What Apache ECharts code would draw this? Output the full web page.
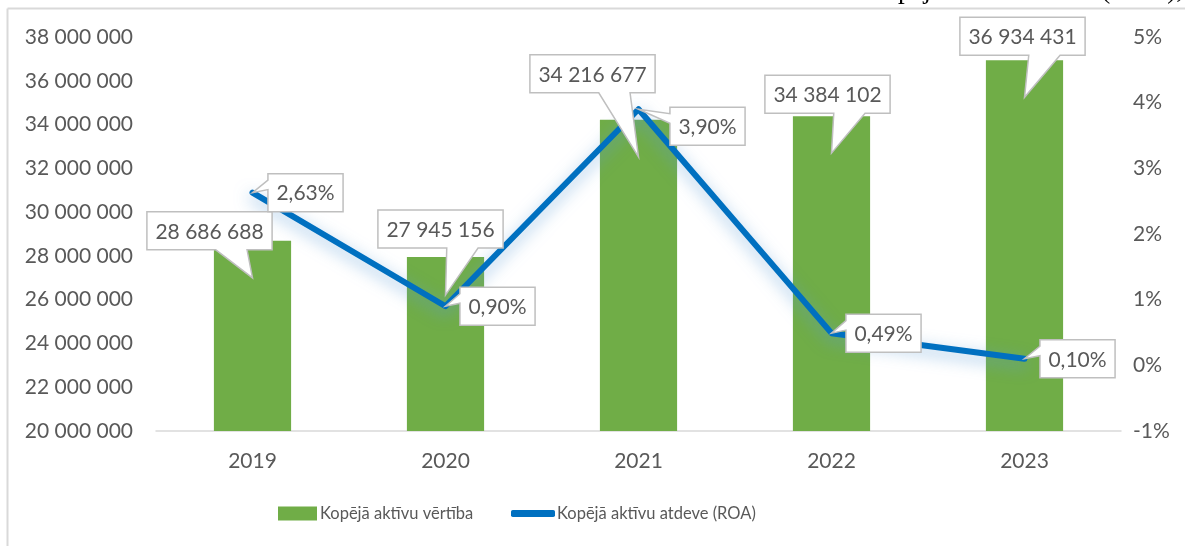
<!DOCTYPE html>
<html><head><meta charset="utf-8">
<script src="https://cdn.jsdelivr.net/npm/echarts@6/dist/echarts.min.js"></script>
<style>html,body{margin:0;padding:0;background:#fff}#c{width:1185px;height:546px}</style>
</head><body><div id="c"></div>
<script>
// ---------- data ----------
const categories = ['2019', '2020', '2021', '2022', '2023'];
const assetValues = [28686688, 27945156, 34216677, 34384102, 36934431];
const roaValues = [2.63, 0.90, 3.90, 0.49, 0.10];
const seriesNames = ['Kopējā aktīvu vērtība', 'Kopējā aktīvu atdeve (ROA)'];
const leftAxisTicks = [20000000, 22000000, 24000000, 26000000, 28000000, 30000000, 32000000, 34000000, 36000000, 38000000];
const rightAxisTicks = [-1, 0, 1, 2, 3, 4, 5];
const clippedTitle = 'kopējā aktīvu atdeve (ROA),';

// ---------- label callout placement (pixel offsets from the data point) ----------
const barBoxOffsets = [[-43, -10], [-5, -28], [-46, -46], [-4, -22], [-2, -24]];
const barTipOffsets = [[0, 37], [0, 38], [0, 37], [0, 37], [0, 37]];
const lineBoxOffsets = [[53, 0], [52, 0], [69, 17], [52, 0], [53, 0]];
const lineTipOffsets = [[0, 0], [0, 0], [0, 0], [0, 0], [0, 0]];

const FONT = 'Lato';
const TXT = '#595959';
const fmtSpace = v => String(Math.round(v)).replace(/\B(?=(\d{3})+(?!\d))/g, ' ');
const fmtPct = v => v.toFixed(2).replace('.', ',') + '%';

const mctx = document.createElement('canvas').getContext('2d');
function textW(s, size) { mctx.font = size + 'px ' + FONT; return mctx.measureText(s).width; }

function calloutPoints(cx, cy, w, h, tx, ty) {
  const l = cx - w / 2, r = cx + w / 2, t = cy - h / 2, b = cy + h / 2;
  const dx = (tx - cx) / w, dy = (ty - cy) / h;
  if (Math.abs(dy) >= Math.abs(dx)) {
    const a = tx >= cx ? l + w * 0.55 : l + w * 0.2;
    const c = tx >= cx ? l + w * 0.8 : l + w * 0.45;
    if (dy > 0) return [[l, t], [r, t], [r, b], [c, b], [tx, ty], [a, b], [l, b]];
    return [[l, t], [a, t], [tx, ty], [c, t], [r, t], [r, b], [l, b]];
  } else {
    const a = ty > cy ? t + h * 0.58 : t + h * 0.17;
    const c = ty > cy ? t + h * 0.83 : t + h * 0.42;
    if (dx < 0) return [[l, t], [r, t], [r, b], [l, b], [l, c], [tx, ty], [l, a]];
    return [[l, t], [r, t], [r, a], [tx, ty], [r, c], [r, b], [l, b]];
  }
}

function calloutRenderer(fmt, boxOffs, tipOffs) {
  return function (params, api) {
    const i = params.dataIndex;
    const p = api.coord([api.value(0), api.value(1)]);
    const s = fmt(api.value(1));
    const w = textW(s, 21) + 17, h = 38;
    const cx = p[0] + boxOffs[i][0], cy = p[1] + boxOffs[i][1];
    const tx = p[0] + tipOffs[i][0], ty = p[1] + tipOffs[i][1];
    return {
      type: 'group',
      children: [
        { type: 'polygon', shape: { points: calloutPoints(cx, cy, w, h, tx, ty) },
          style: { fill: '#ffffff', stroke: '#BFBFBF', lineWidth: 1.5 } },
        { type: 'text', x: cx, y: cy + 1,
          style: { text: s, align: 'center', verticalAlign: 'middle', fill: TXT, fontSize: 21, fontFamily: FONT } }
      ]
    };
  };
}

const chart = echarts.init(document.getElementById('c'), null, { renderer: 'canvas' });
const option = {
  animation: false,
  backgroundColor: '#ffffff',
  grid: { left: 156, right: 64, top: 37, bottom: 115 },
  legend: [
    { data: [seriesNames[0]], left: 278, top: 505, padding: 0, icon: 'rect', itemWidth: 39, itemHeight: 14, itemGap: 0,
      textStyle: { color: TXT, fontSize: 16.5, fontFamily: FONT, padding: [0, 0, 0, -2] } },
    { data: [seriesNames[1]], left: 511, top: 505, padding: 0, icon: 'roundRect', itemWidth: 44, itemHeight: 7, itemGap: 0,
      itemStyle: { shadowBlur: 0, shadowOffsetY: 0 },
      textStyle: { color: TXT, fontSize: 16.5, fontFamily: FONT, padding: [0, 0, 0, -3] } }
  ],
  xAxis: {
    type: 'category', data: categories,
    axisLine: { onZero: false, lineStyle: { color: '#D9D9D9', width: 1.5 } },
    axisTick: { show: false },
    axisLabel: { color: TXT, fontSize: 21, fontFamily: FONT, margin: 20 }
  },
  yAxis: [
    { type: 'value', min: leftAxisTicks[0], max: leftAxisTicks[leftAxisTicks.length - 1],
      interval: leftAxisTicks[1] - leftAxisTicks[0],
      axisLine: { show: false }, axisTick: { show: false }, splitLine: { show: false },
      axisLabel: { color: TXT, fontSize: 21, fontFamily: FONT, margin: 23, formatter: fmtSpace } },
    { type: 'value', position: 'right', min: rightAxisTicks[0], max: rightAxisTicks[rightAxisTicks.length - 1],
      interval: rightAxisTicks[1] - rightAxisTicks[0],
      axisLine: { show: false }, axisTick: { show: false }, splitLine: { show: false },
      axisLabel: { color: TXT, fontSize: 21, fontFamily: FONT, margin: 12, formatter: v => v + '%' } }
  ],
  series: [
    { name: seriesNames[0], type: 'bar', yAxisIndex: 0, data: assetValues, barWidth: '40%', z: 2,
      itemStyle: { color: '#70AD47' } },
    { name: seriesNames[1], type: 'line', yAxisIndex: 1, data: roaValues, z: 3,
      symbol: 'none', color: '#0070C0',
      lineStyle: { color: '#0070C0', width: 6, cap: 'round', join: 'round',
        shadowColor: 'rgba(91,155,213,0.65)', shadowBlur: 16, shadowOffsetY: 5 } },
    { type: 'custom', coordinateSystem: 'cartesian2d', yAxisIndex: 0, z: 4, silent: true,
      data: assetValues.map((v, i) => [i, v]), encode: { x: 0, y: 1 },
      renderItem: calloutRenderer(fmtSpace, barBoxOffsets, barTipOffsets) },
    { type: 'custom', coordinateSystem: 'cartesian2d', yAxisIndex: 1, z: 5, silent: true,
      data: roaValues.map((v, i) => [i, v]), encode: { x: 0, y: 1 },
      renderItem: calloutRenderer(fmtPct, lineBoxOffsets, lineTipOffsets) }
  ],
  graphic: [
    { type: 'line', silent: true, shape: { x1: 7.5, y1: 8.5, x2: 7.5, y2: 546 }, style: { stroke: '#D9D9D9', lineWidth: 2 } },
    { type: 'line', silent: true, shape: { x1: 7.5, y1: 8.5, x2: 1185, y2: 8.5 }, style: { stroke: '#D9D9D9', lineWidth: 2 } },
    { type: 'text', silent: true, x: 1183, y: 4,
      style: { text: clippedTitle, align: 'right', verticalAlign: 'bottom', fill: '#000000', fontSize: 27, fontFamily: 'Liberation Serif' } }
  ]
};
chart.setOption(option);
</script>
</body></html>
